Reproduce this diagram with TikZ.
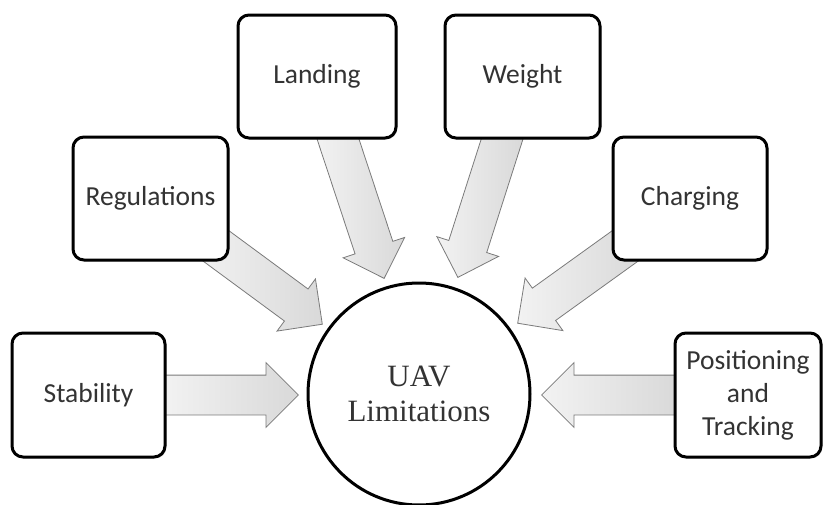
\documentclass[tikz,border=0pt]{standalone}
\usepackage{fontspec}
\setmainfont{Liberation Serif}
\newfontfamily\boxfont{Carlito}
\usetikzlibrary{shapes.arrows,calc,backgrounds,shadows}
\definecolor{txtgray}{HTML}{333333}
\definecolor{arrline}{HTML}{7A7A7A}
\tikzset{
  limbox/.style={draw=black, line width=3pt, rounded corners=11pt, fill=white,
    align=center, text=txtgray, font=\boxfont\fontsize{27.5}{33}\selectfont,
    inner sep=2pt,
    drop shadow={opacity=0.25, shadow xshift=1.5pt, shadow yshift=-1.5pt}},
  hubcircle/.style={draw=black, line width=3pt, circle, fill=white,
    minimum size=222pt, align=center, text=txtgray,
    font=\fontsize{31}{35}\selectfont},
  bigarrow/.style={single arrow, draw=arrline, line width=0.8pt,
    left color=gray!10, right color=gray!30,
    single arrow head extend=12.5pt,
    single arrow tip angle=90, single arrow head indent=0pt,
    inner xsep=0pt, inner ysep=19.5pt, minimum width=0pt, anchor=tail}
}
\newcommand\fatarrow[2]{%
  \path let \p1=(#1), \p2=(#2),
    \n1={atan2(\y2-\y1,\x2-\x1)}, \n2={veclen(\x2-\x1,\y2-\y1)} in
    node[bigarrow, rotate=\n1, minimum height=\n2] at (\p1) {};}
\begin{document}
\begin{tikzpicture}[x=1pt,y=-1pt]
\useasboundingbox (0,0) rectangle (823,504);
% nodes
\node[hubcircle] (uav) at (419,394) {UAV\\Limitations};
\node[limbox, minimum width=153pt, minimum height=124pt] (stab) at (88.5,395) {Stability};
\node[limbox, minimum width=155pt, minimum height=123pt] (reg) at (150.5,198.5) {Regulations};
\node[limbox, minimum width=158pt, minimum height=123pt] (land) at (317,76.5) {Landing};
\node[limbox, minimum width=155pt, minimum height=123pt] (weight) at (522.5,76.5) {Weight};
\node[limbox, minimum width=154pt, minimum height=123pt] (charg) at (690,198.5) {Charging};
\node[limbox, minimum width=146pt, minimum height=124pt] (pos) at (748,395) {Positioning\\and\\Tracking};
% arrow end points
\coordinate (sA) at ($(stab.east)+(-5,0)$);   \coordinate (tA) at (298,395);
\coordinate (sB) at (208,240);                \coordinate (tB) at (322,324);
\coordinate (sC) at (335,130);                \coordinate (tC) at (384,278);
\coordinate (sD) at (505,130);                \coordinate (tD) at (458,277);
\coordinate (sE) at (632,241);                \coordinate (tE) at (518,323);
\coordinate (sF) at ($(pos.west)+(5,0)$);     \coordinate (tF) at (542,395);
\begin{pgfonlayer}{background}
\fatarrow{sA}{tA}
\fatarrow{sB}{tB}
\fatarrow{sC}{tC}
\fatarrow{sD}{tD}
\fatarrow{sE}{tE}
\fatarrow{sF}{tF}
\end{pgfonlayer}
\end{tikzpicture}
\end{document}
